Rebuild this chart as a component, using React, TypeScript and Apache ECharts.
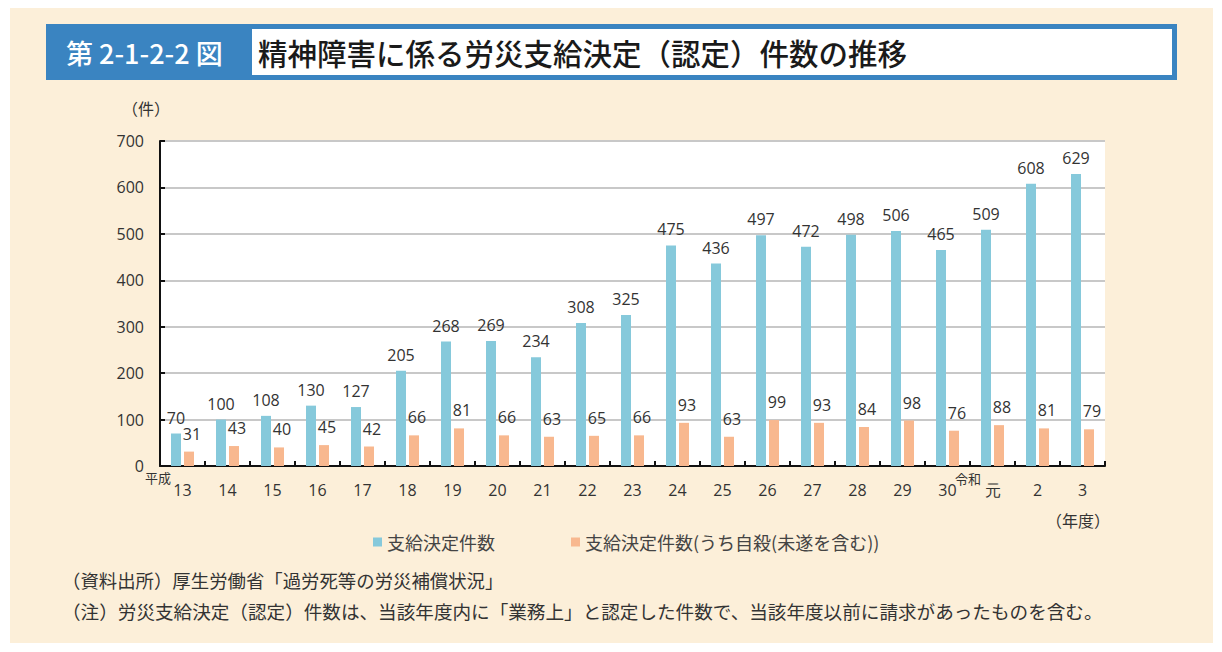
import React, { useEffect, useRef } from "react";
import * as echarts from "echarts";

const categories = ["13","14","15","16","17","18","19","20","21","22","23","24","25","26","27","28","29","30","元","2","3"];
const totalDecisions = [70,100,108,130,127,205,268,269,234,308,325,475,436,497,472,498,506,465,509,608,629];
const suicideDecisions = [31,43,40,45,42,66,81,66,63,65,66,93,63,99,93,84,98,76,88,81,79];
const yTicks = { min: 0, max: 700, interval: 100 };
const seriesNames = ["支給決定件数", "支給決定件数(うち自殺(未遂を含む))"];

const JP = '"Noto Sans CJK JP", "Noto Sans", sans-serif';
const NUM = '"Open Sans", "Noto Sans", sans-serif';

export default function App() {
  const ref = useRef<HTMLDivElement>(null);
  useEffect(() => {
    if (!ref.current) return;
    const chart = echarts.init(ref.current, null, { renderer: "svg" });
    chart.setOption({
      animation: false,
      backgroundColor: "#ffffff",
      textStyle: { fontFamily: JP },
      graphic: [
        { type: "rect", z: -10, shape: { x: 10, y: 8, width: 1203, height: 635 }, style: { fill: "#FCEFD9" } },
        { type: "rect", z: -9, shape: { x: 46, y: 24, width: 1131, height: 56 }, style: { fill: "#3A84C1" } },
        { type: "rect", z: -8, shape: { x: 252, y: 29, width: 920, height: 46 }, style: { fill: "#ffffff" } },
        { type: "text", x: 66, y: 52, style: { text: "第 2-1-2-2 図", fill: "#ffffff", font: `500 27px ${JP}`, verticalAlign: "middle" } },
        { type: "text", x: 258, y: 52, style: { text: "精神障害に係る労災支給決定（認定）件数の推移", fill: "#1a1a1a", font: `500 29.5px ${JP}`, verticalAlign: "middle" } },
        { type: "text", x: 122, y: 108, style: { text: "（件）", fill: "#333333", font: `16px ${JP}`, verticalAlign: "middle" } },
        { type: "text", x: 1046, y: 520, style: { text: "（年度）", fill: "#333333", font: `16px ${JP}`, verticalAlign: "middle" } },
        { type: "text", x: 145, y: 477, style: { text: "平成", fill: "#333333", font: `13px ${JP}`, verticalAlign: "middle" } },
        { type: "text", x: 955, y: 478, style: { text: "令和", fill: "#333333", font: `13px ${JP}`, verticalAlign: "middle" } },
        { type: "text", x: 62, y: 580, style: { text: "（資料出所）厚生労働省「過労死等の労災補償状況」", fill: "#333333", font: `18.4px ${JP}`, verticalAlign: "middle" } },
        { type: "text", x: 62, y: 610, style: { text: "（注）労災支給決定（認定）件数は、当該年度内に「業務上」と認定した件数で、当該年度以前に請求があったものを含む。", fill: "#333333", font: `18.6px ${JP}`, verticalAlign: "middle" } },
      ],
      grid: { left: 160, right: 117, top: 141, bottom: 186, show: true, backgroundColor: "#ffffff", borderWidth: 0 },
      legend: {
        left: 368, top: 528,
        itemWidth: 9, itemHeight: 9, itemGap: 76,
        icon: "rect",
        textStyle: { fontSize: 18, color: "#444444", fontFamily: JP },
        data: seriesNames,
      },
      xAxis: {
        type: "category",
        data: categories,
        axisLine: { lineStyle: { color: "#111111", width: 2 } },
        axisTick: { show: true, inside: true, length: 5, lineStyle: { color: "#111111", width: 2 } },
        axisLabel: { color: "#333333", fontSize: 16, fontFamily: NUM, margin: 16 },
      },
      yAxis: {
        type: "value",
        min: yTicks.min, max: yTicks.max, interval: yTicks.interval,
        axisLine: { show: true, lineStyle: { color: "#111111", width: 2 } },
        axisTick: { show: true, inside: true, length: 5, lineStyle: { color: "#111111", width: 2 } },
        axisLabel: { color: "#333333", fontSize: 16, fontFamily: NUM, margin: 16 },
        splitLine: { lineStyle: { color: "#C8C8C8", width: 2 } },
      },
      series: [
        {
          name: seriesNames[0], type: "bar", data: totalDecisions,
          barWidth: 10, barGap: "30%",
          itemStyle: { color: "#86C9DB" },
          label: { show: true, position: "top", distance: 8, color: "#333333", fontSize: 16, fontFamily: NUM },
        },
        {
          name: seriesNames[1], type: "bar", data: suicideDecisions,
          barWidth: 10,
          itemStyle: { color: "#F8B88F" },
          label: { show: true, position: "top", distance: 10, offset: [3, 0], color: "#333333", fontSize: 16, fontFamily: NUM },
        },
      ],
    });
    return () => chart.dispose();
  }, []);
  return <div ref={ref} style={{ position: "fixed", left: 0, top: 0, width: 1222, height: 652 }} />;
}
